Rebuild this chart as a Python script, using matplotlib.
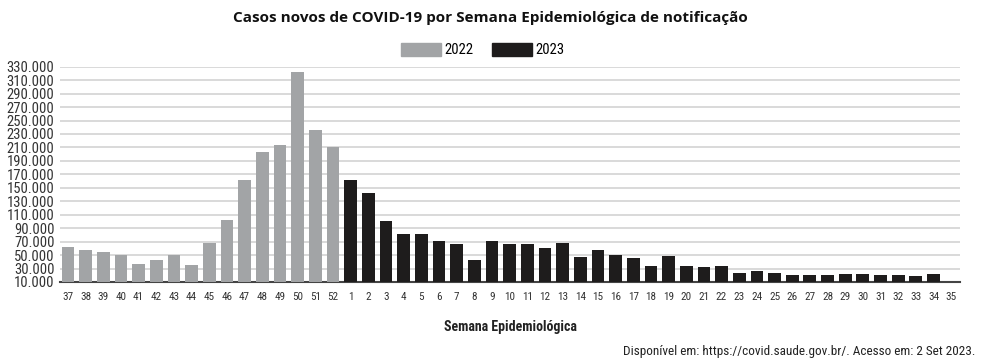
import numpy as np
import matplotlib.pyplot as plt
from matplotlib.patches import Patch
from matplotlib.ticker import FuncFormatter

weeks_2022 = [37, 38, 39, 40, 41, 42, 43, 44, 45, 46, 47, 48, 49, 50, 51, 52]
cases_2022 = [62600, 58100, 54700, 50200, 36300, 43300, 50200, 35300,
              68000, 102300, 160900, 202600, 213000, 322200, 235300, 210500]

weeks_2023 = list(range(1, 36))
cases_2023 = [161400, 142500, 100800, 81500, 81500, 70500, 66100, 42300,
              70500, 66100, 67100, 60600, 68600, 46700, 57100, 50200,
              46200, 33800, 49200, 33800, 32300, 33300, 22900, 26900,
              23900, 19900, 19900, 20900, 21900, 21900, 20400, 20400,
              18400, 22400, np.nan]

y_ticks = list(range(10000, 330001, 20000))

gray = '#a2a4a6'
black = '#1e1c1c'
narrow = ['Liberation Sans Narrow', 'DejaVu Sans Condensed', 'Roboto Condensed', 'DejaVu Sans']

labels = [str(w) for w in weeks_2022 + weeks_2023]
x = np.arange(len(labels))
n22 = len(weeks_2022)
base = 10000

fig = plt.figure(figsize=(10, 3.64), dpi=100)
ax = fig.add_axes([0.06, 0.2253, 0.90, 0.5915])

ax.bar(x[:n22], np.array(cases_2022) - base, bottom=base, width=0.72, color=gray, zorder=3)
ax.bar(x[n22:], np.array(cases_2023) - base, bottom=base, width=0.72, color=black, zorder=3)

ax.set_xlim(-0.45, len(labels) - 0.5)
ax.set_ylim(10000, 330000)
ax.set_yticks(y_ticks)
ax.yaxis.set_major_formatter(FuncFormatter(lambda v, p: f'{int(v):,}'.replace(',', '.')))
ax.grid(axis='y', color='#d9d9d9', linewidth=1.4, zorder=0)
ax.set_xticks(x)
ax.set_xticklabels(labels)
ax.tick_params(length=0)
ax.tick_params(axis='y', labelsize=10.5, pad=4, labelcolor='#333333')
ax.tick_params(axis='x', labelsize=8, pad=7, labelcolor='#333333')
for lab in ax.get_xticklabels() + ax.get_yticklabels():
    lab.set_family(narrow)
for s in ['left', 'right', 'top']:
    ax.spines[s].set_visible(False)
ax.spines['bottom'].set_color('#444444')
ax.spines['bottom'].set_linewidth(1.5)

ax.set_xlabel('Semana Epidemiológica', fontsize=10, fontweight='bold', family=narrow,
              labelpad=13, color='#222222')

fig.text(0.49, 0.95, 'Casos novos de COVID-19 por Semana Epidemiológica de notificação',
         ha='center', va='center', fontsize=11, fontweight='bold', family='Open Sans',
         color='#111111')

handles = [Patch(color=gray, label='2022'), Patch(color=black, label='2023')]
fig.legend(handles=handles, loc='center', bbox_to_anchor=(0.483, 0.862), ncol=2,
           frameon=False, handlelength=2.7, handleheight=1.0, columnspacing=1.3,
           handletextpad=0.25, prop={'family': narrow, 'size': 10.5})

fig.text(0.975, 0.033, 'Disponível em: https://covid.saude.gov.br/. Acesso em: 2 Set 2023.',
         ha='right', va='center', fontsize=9.5, family=narrow, color='#222222')

fig.savefig('out.png', dpi=100)
